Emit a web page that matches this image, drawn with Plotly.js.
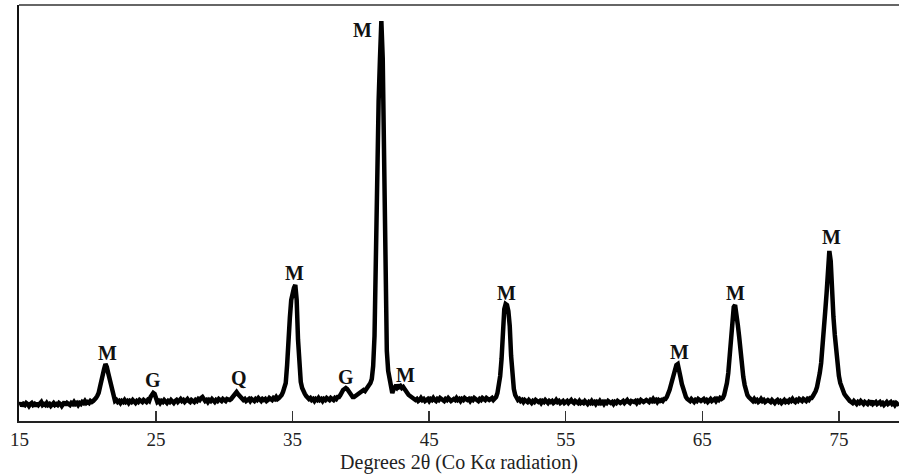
<!DOCTYPE html>
<html>
<head>
<meta charset="utf-8">
<script src="https://cdn.plot.ly/plotly-3.0.1.min.js"></script>
<style>
  html, body { margin: 0; padding: 0; background: #ffffff; }
  #chart { width: 899px; height: 474px; }
</style>
</head>
<body>
<div id="chart"></div>
<script>
// Diffraction angle sampling (degrees 2θ): start and step of the scan
const scanStart = 15.0;
const scanStep = 0.1;

// Measured intensity (arbitrary units), one value per 0.1° from 15.0° to 79.4°
const intensity = [
  16,18,15,17,16,18,17,15,17,18,   // 15
  16,17,15,18,16,17,19,16,17,16,   // 16
  18,16,17,15,17,18,16,17,16,18,   // 17
  17,15,17,19,16,18,17,16,18,17,   // 18
  19,17,18,16,18,17,19,18,20,18,   // 19
  19,18,20,19,20,21,23,25,28,34,   // 20
  42,47,52,57,54,48,42,35,28,23,   // 21
  20,21,19,20,18,20,19,21,19,20,   // 22
  18,20,19,21,19,18,20,19,21,20,   // 23
  19,21,20,19,21,20,24,27,28,27,   // 24
  22,19,20,18,20,19,21,19,18,20,   // 25
  19,21,20,18,20,21,19,20,22,20,   // 26
  21,19,20,22,20,19,21,20,19,21,   // 27
  20,22,21,23,24,22,20,21,19,21,   // 28
  20,22,21,19,21,20,22,21,20,22,   // 29
  21,20,22,21,21,22,24,26,28,29,   // 30
  27,25,23,22,21,22,20,21,22,20,   // 31
  22,21,20,22,21,23,21,20,22,21,   // 32
  22,20,21,23,22,21,23,22,24,22,   // 33
  23,24,26,29,36,38,56,86,103,121, // 34
  128,133,136,121,81,49,39,33,29,27, // 35
  25,24,22,23,21,22,20,22,21,23,   // 36
  21,22,20,22,21,23,22,21,23,22,   // 37
  21,23,22,24,24,26,29,31,32,33,   // 38
  32,30,27,25,24,24,25,25,26,27,   // 39
  28,29,31,30,32,34,36,38,42,55,   // 40
  85,160,290,320,363,400,363,231,140,70, // 41
  50,40,32,28,32,34,33,36,34,35,   // 42
  33,34,32,29,28,26,25,24,22,22,   // 43
  21,22,20,21,23,21,22,20,21,22,   // 44
  20,22,21,23,21,20,22,21,23,22,   // 45
  21,20,22,21,23,22,20,21,22,21,   // 46
  23,21,22,20,22,21,23,22,21,22,   // 47
  20,22,21,23,22,21,20,22,21,23,   // 48
  22,21,23,22,21,22,23,21,22,24,   // 49
  28,35,45,62,92,112,117,116,110,95, // 50
  65,42,32,26,23,21,22,20,21,19,   // 51
  21,20,19,21,20,18,20,19,21,20,   // 52
  19,20,18,20,19,21,19,18,20,19,   // 53
  20,18,19,21,19,20,18,19,20,18,   // 54
  19,20,18,19,21,19,18,20,19,18,   // 55
  20,18,19,18,20,19,17,19,18,20,   // 56
  18,19,17,19,18,20,18,19,17,19,   // 57
  18,20,19,18,19,17,19,18,20,19,   // 58
  18,19,20,18,19,21,19,18,20,19,   // 59
  19,20,18,20,19,21,20,19,20,21,   // 60
  20,19,21,20,22,20,21,19,21,20,   // 61
  21,20,22,22,24,27,31,36,42,47,   // 62
  52,56,57,52,44,37,31,27,24,22,   // 63
  21,20,22,20,19,21,20,22,21,20,   // 64
  21,22,20,21,19,21,22,20,21,22,   // 65
  20,22,21,23,22,23,26,31,38,48,   // 66
  62,78,98,114,116,108,96,84,68,55, // 67
  44,36,30,26,24,22,21,20,22,20,   // 68
  21,19,20,22,20,21,19,20,21,20,   // 69
  19,21,20,18,20,21,19,20,18,20,   // 70
  21,19,20,19,21,20,22,20,19,21,   // 71
  20,22,21,20,22,21,20,22,21,23,   // 72
  23,25,27,30,34,40,48,58,72,88,   // 73
  110,128,158,170,160,125,104,86,68,55, // 74
  45,38,33,29,27,25,23,21,20,19,   // 75
  18,20,19,17,19,18,20,18,17,19,   // 76
  18,17,19,18,20,17,18,19,17,18,   // 77
  19,17,18,16,18,19,17,18,19,17,   // 78
  18,16,18,17,18                   // 79.0 - 79.4
];

// Phase labels: M, G, Q and where they sit (2θ, intensity)
const phaseLabels = ["M", "G", "Q", "M", "G", "M", "M", "M", "M", "M", "M"];
const labelTheta  = [21.48, 24.75, 31.08, 35.17, 38.89, 40.10, 43.30, 50.67, 63.31, 67.44, 74.46];
const labelLevel  = [68, 41, 43, 148, 44, 391, 46, 128, 69, 128, 184];

// Axis ticks
const tickVals = [15, 25, 35, 45, 55, 65, 75];
const tickText = ["15", "25", "35", "45", "55", "65", "75"];

const serif = "Liberation Serif, Times New Roman, serif";

const trace = {
  type: "scatter",
  mode: "lines",
  x0: scanStart,
  dx: scanStep,
  y: intensity,
  line: { color: "#000000", width: 4.5 },
  hoverinfo: "skip"
};

const annotations = phaseLabels.map((t, i) => ({
  x: labelTheta[i],
  y: labelLevel[i],
  xref: "x",
  yref: "y",
  text: "<b>" + t + "</b>",
  showarrow: false,
  xanchor: "center",
  yanchor: "middle",
  font: { family: serif, size: 20, color: "#111111" }
}));

const layout = {
  width: 899,
  height: 474,
  margin: { l: 19, r: 0, t: 5, b: 53, pad: 0 },
  paper_bgcolor: "#ffffff",
  plot_bgcolor: "#ffffff",
  showlegend: false,
  xaxis: {
    range: [14.97, 79.4],
    tickmode: "array",
    tickvals: tickVals,
    ticktext: tickText,
    ticks: "inside",
    ticklen: 10,
    tickwidth: 1.5,
    tickcolor: "#333333",
    showline: true,
    linecolor: "#222222",
    linewidth: 2,
    showgrid: false,
    zeroline: false,
    tickfont: { family: serif, size: 19, color: "#222222" },
    title: {
      text: "Degrees 2θ (Co Kα radiation)",
      font: { family: serif, size: 20, color: "#222222" },
      standoff: 6
    },
    automargin: false,
    fixedrange: true
  },
  yaxis: {
    range: [0, 416],
    showticklabels: false,
    ticks: "",
    showline: true,
    linecolor: "#111111",
    linewidth: 2,
    showgrid: false,
    zeroline: false,
    fixedrange: true
  },
  shapes: [
    {
      type: "line", xref: "paper", yref: "paper",
      x0: 0, x1: 1, y0: 1, y1: 1,
      line: { color: "#666666", width: 2 }
    }
  ],
  annotations: annotations
};

Plotly.newPlot("chart", [trace], layout, { displayModeBar: false, staticPlot: true });
</script>
</body>
</html>
